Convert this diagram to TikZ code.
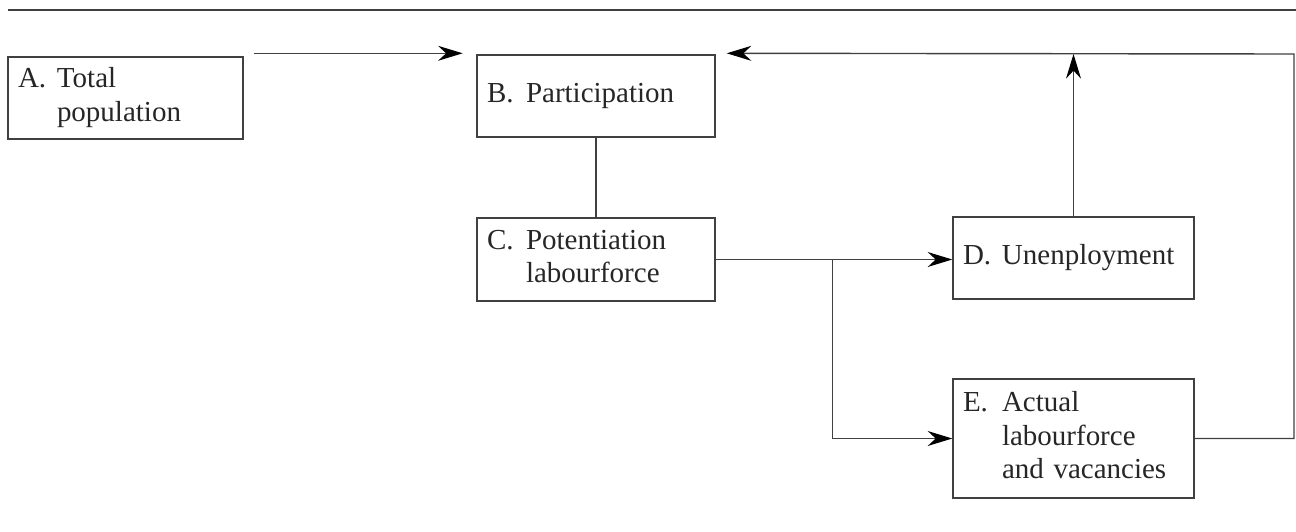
\documentclass[tikz,border=0pt]{standalone}
\usepackage{fontspec}
\setmainfont{Liberation Serif}
\newfontfamily\diagfont{Liberation Serif}
\usetikzlibrary{arrows.meta, positioning, calc}

% label with hanging indent
\newcommand{\boxtext}[2]{\begin{tabular}{@{}p{0.78cm}@{}l@{}}#1 & #2\end{tabular}}

\begin{document}
\begin{tikzpicture}[
    every node/.style={font=\diagfont\fontsize{16.5}{19}\selectfont, text=black!85},
    box/.style={draw=black!75, line width=0.8pt, inner xsep=0.2cm, inner ysep=0pt, align=left},
    arrow/.style={-{Stealth[length=14pt, width=8.5pt, color=black]}, line width=0.8pt, draw=black!75},
    link/.style={line width=0.8pt, draw=black!75}
]
\useasboundingbox (0,0) rectangle (25.92,-10.62);

% top rule
\draw[link] (0.16,-0.2) -- (25.92,-0.2);

% ============ BOXES ============
\node[box, text width=4.3cm, minimum height=1.64cm] (A) at (2.51,-1.96) {\boxtext{A.}{Total\\ & population}};
\node[box, text width=4.36cm, minimum height=1.64cm] (B) at (11.92,-1.92) {\boxtext{B.}{Participation}};
\node[box, text width=4.36cm, minimum height=1.66cm] (C) at (11.92,-5.19) {\boxtext{C.}{Potentiation\\ & labourforce}};
\node[box, text width=4.42cm, minimum height=1.64cm] (D) at (21.47,-5.16) {\boxtext{D.}{Unenployment}};
\node[box, text width=4.42cm, minimum height=2.38cm] (E) at (21.47,-8.77) {\boxtext{E.}{Actual\\ & labourforce\\ & and vacancies}};

% helper points
\coordinate (fb) at (25.88,-1.08);
\coordinate (split) at ($(C.east)+(2.34,0)$);

% ============ CONNECTIONS ============
\draw[arrow] ([shift={(0.2,0.06)}]A.north east) -- ++(4.18,0);
\draw[link] (B) -- (C);
\draw[arrow] (C.east) -- (C.east -| D.west);
\draw[arrow] (split) |- (E.west);
\draw[arrow] (D.north) -- (D.north |- fb);

% feedback to participation
\draw[arrow] (E.east) -| (fb) -- ([shift={(0.22,0.02)}]B.north east);

\end{tikzpicture}
\end{document}
